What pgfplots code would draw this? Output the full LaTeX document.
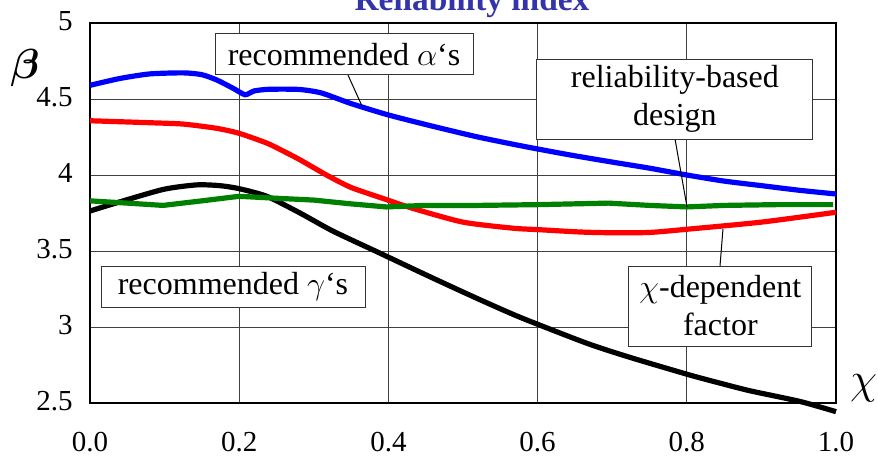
\RequirePackage{fix-cm}
\documentclass[border=0pt]{standalone}
\usepackage{bm}
\usepackage{fontspec}
\setmainfont{Liberation Serif}
\usepackage{pgfplots}
\pgfplotsset{compat=1.18}
\definecolor{titleblue}{RGB}{51,51,170}
\definecolor{cblue}{RGB}{0,0,255}
\definecolor{cred}{RGB}{255,0,0}
\definecolor{cgreen}{RGB}{0,128,0}
\begin{document}
\begin{tikzpicture}
\useasboundingbox (0,0) rectangle (439pt,228.5pt);
\begin{axis}[
  at={(45pt,27pt)}, anchor=south west, scale only axis,
  width=373pt, height=190pt,
  xmin=0, xmax=1, ymin=2.5, ymax=5,
  xtick={0,0.2,0.4,0.6,0.8,1.0}, ytick={2.5,3,3.5,4,4.5,5},
  grid=major, major grid style={black!75, line width=0.5pt},
  axis line style={line width=1pt},
  major tick length=0pt,
  ticklabel style={font=\fontsize{14.5}{17}\selectfont},
  /pgf/number format/assume math mode=true,
  xticklabel={\pgfmathprintnumber[fixed,fixed zerofill,precision=1]{\tick}},
  xticklabel style={anchor=base, yshift=-24pt, inner sep=0pt},
  yticklabel style={anchor=east, xshift=-8.5pt, yshift=1pt, inner sep=0pt},
  clip=false,
]
% blue: recommended alpha's
\addplot[cblue, line width=2.6pt, smooth, tension=0.4] coordinates {
(0,4.59) (0.04,4.635) (0.08,4.665) (0.125,4.672) (0.15,4.66) (0.17,4.625)
(0.192,4.57) (0.208,4.528) (0.22,4.553) (0.24,4.564) (0.28,4.563) (0.31,4.54)
(0.35,4.47) (0.40,4.395) (0.46,4.32) (0.52,4.25) (0.58,4.19) (0.64,4.135)
(0.70,4.085) (0.75,4.045) (0.80,4.0) (0.85,3.96) (0.90,3.93) (0.95,3.90) (1.0,3.875)
};
% red: reliability-based design
\addplot[cred, line width=2.6pt, smooth, tension=0.4] coordinates {
(0,4.357) (0.08,4.344) (0.125,4.335) (0.17,4.307) (0.2,4.274) (0.237,4.21)
(0.26,4.155) (0.2815,4.10) (0.317,4.0) (0.349,3.92) (0.389,3.852) (0.433,3.78)
(0.5,3.69) (0.567,3.65) (0.603,3.64) (0.657,3.625) (0.70,3.62) (0.75,3.622)
(0.8,3.643) (0.9,3.69) (1.0,3.755)
};
% black: recommended gamma's
\addplot[black, line width=2.6pt, smooth, tension=0.4] coordinates {
(0,3.763) (0.031,3.81) (0.098,3.905) (0.143,3.935) (0.174,3.93) (0.2,3.91)
(0.237,3.86) (0.2815,3.75) (0.326,3.63) (0.389,3.485) (0.456,3.33)
(0.518,3.19) (0.576,3.065) (0.666,2.893) (0.724,2.80) (0.804,2.684)
(0.845,2.63) (0.885,2.58) (0.952,2.51) (1.0,2.443)
};
% green: chi-dependent factor
\addplot[cgreen, line width=2.6pt] coordinates {
(0,3.83) (0.05,3.815) (0.098,3.80) (0.15,3.83) (0.2,3.86) (0.25,3.847)
(0.3,3.835) (0.35,3.81) (0.397,3.79) (0.45,3.80) (0.52,3.80) (0.6,3.805)
(0.695,3.815) (0.75,3.80) (0.8,3.79) (0.85,3.80) (0.92,3.805) (0.996,3.805)
};
% leader lines
\draw[black, line width=0.5pt] (axis cs:0.3458,4.658) -- (axis cs:0.3646,4.454);
\draw[black, line width=0.5pt] (axis cs:0.7842,4.237) -- (axis cs:0.8003,3.789);
\draw[black, line width=0.5pt] (axis cs:0.8445,3.401) -- (axis cs:0.8485,3.645);
% annotation boxes
\tikzset{abox/.style={draw=black!80, line width=0.5pt, fill=white, inner sep=0pt,
  align=center, font=\fontsize{16}{19}\selectfont}}
\node[abox, minimum width=129pt, minimum height=20.5pt] at (axis cs:0.3405,4.793)
  {recommended $\alpha$‘s};
\node[abox, minimum width=138pt, minimum height=40pt] at (axis cs:0.784,4.50)
  {reliability-based\\design};
\node[abox, minimum width=91.5pt, minimum height=40pt] at (axis cs:0.845,3.138)
  {$\chi$-dependent\\factor};
\node[abox, minimum width=132pt, minimum height=20.5pt] at (axis cs:0.1917,3.266)
  {recommended $\gamma$‘s};
\end{axis}
\node[anchor=base, text=titleblue, font=\fontsize{16.7}{20}\selectfont\bfseries]
  at (236pt,223.5pt) {Reliability index};
\node[font=\fontsize{21}{25}\selectfont, inner sep=0pt] at (12.5pt,194.5pt) {$\bm{\beta}$};
\node[font=\fontsize{22}{26}\selectfont, inner sep=0pt] at (431.75pt,34.25pt) {$\chi$};
\end{tikzpicture}
\end{document}
